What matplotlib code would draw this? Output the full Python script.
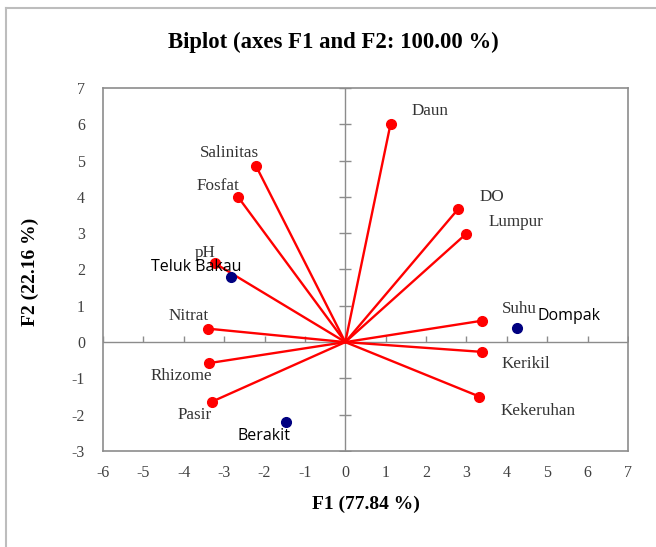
import matplotlib

matplotlib.use("Agg")
import matplotlib.pyplot as plt
from matplotlib.lines import Line2D

# Variable loadings on F1 / F2
variables = ["Daun", "Salinitas", "Fosfat", "pH", "Nitrat", "Rhizome", "Pasir",
             "DO", "Lumpur", "Suhu", "Kerikil", "Kekeruhan"]
var_f1 = [1.12, -2.21, -2.65, -3.23, -3.40, -3.38, -3.30, 2.79, 3.00, 3.39, 3.39, 3.32]
var_f2 = [6.01, 4.85, 3.99, 2.17, 0.37, -0.58, -1.64, 3.66, 2.99, 0.59, -0.27, -1.50]

# Site scores
sites = ["Teluk Bakau", "Dompak", "Berakit"]
site_f1 = [-2.82, 4.25, -1.46]
site_f2 = [1.78, 0.40, -2.20]

x_ticks = list(range(-6, 8))
y_ticks = list(range(-3, 8))

title = "Biplot (axes F1 and F2: 100.00 %)"
x_label = "F1 (77.84 %)"
y_label = "F2 (22.16 %)"

# label offsets in pixels (dx, dy) from each point
var_offsets = [(40, 13), (-27, 13), (-20, 11), (-10, 10), (-19, 13), (-27, -13),
               (-17, -13), (34, 12), (50, 12), (37, 12), (44, -12), (59, -14)]
site_offsets = [(-35, 10), (52, 12), (-22, -14)]

SERIF = "Liberation Serif"
GRID_GREY = "#8c8c8c"


def main() -> None:
    W, H = 656, 547
    fig = plt.figure(figsize=(W / 100, H / 100), dpi=100)
    fig.patch.set_facecolor("white")

    # outer frame (left and top edges only)
    fig.add_artist(Line2D([6 / W, 6 / W], [0, 1 - 8 / H], transform=fig.transFigure,
                          color="#bdbdbd", lw=1.5))
    fig.add_artist(Line2D([6 / W, 1], [1 - 8 / H, 1 - 8 / H], transform=fig.transFigure,
                          color="#bdbdbd", lw=1.5))

    ax = fig.add_axes([103 / W, 1 - 451 / H, 525 / W, 363 / H])
    ax.set_xlim(-6, 7)
    ax.set_ylim(-3, 7)
    ax.set_xticks(x_ticks)
    ax.set_yticks(y_ticks)
    ax.set_xticklabels([str(t) for t in x_ticks])
    ax.set_yticklabels([str(t) for t in y_ticks])
    ax.tick_params(axis="both", length=0, labelsize=11.5, labelcolor="#404040")
    ax.tick_params(axis="x", pad=10)
    ax.tick_params(axis="y", pad=13)
    for lab in ax.get_xticklabels() + ax.get_yticklabels():
        lab.set_fontfamily(SERIF)
    for spine in ax.spines.values():
        spine.set_color(GRID_GREY)
        spine.set_linewidth(1.2)

    # zero lines with their own tick marks
    ax.axhline(0, color=GRID_GREY, lw=1.0, zorder=1)
    ax.axvline(0, color=GRID_GREY, lw=1.0, zorder=1)
    ax.plot(x_ticks, [0] * len(x_ticks), linestyle="none", marker=2,
            markersize=4.5, markeredgewidth=1.0, color=GRID_GREY, zorder=1)
    ax.plot([0] * len(y_ticks), y_ticks, linestyle="none", marker="_",
            markersize=8, markeredgewidth=1.0, color=GRID_GREY, zorder=1)

    # loading vectors
    for x, y in zip(var_f1, var_f2):
        ax.plot([0, x], [0, y], color="#ff0000", lw=1.7, zorder=2, solid_capstyle="round")
    ax.plot(var_f1, var_f2, "o", color="#ff0000", markersize=7, zorder=3)

    # sites
    ax.plot(site_f1, site_f2, "o", color="#000080", markersize=7, zorder=3)

    for name, x, y, (dx, dy) in zip(variables, var_f1, var_f2, var_offsets):
        ax.annotate(name, (x, y), xytext=(dx, dy), textcoords="offset pixels",
                    ha="center", va="center", fontsize=12.3, family=SERIF, color="#333333")
    for name, x, y, (dx, dy) in zip(sites, site_f1, site_f2, site_offsets):
        ax.annotate(name, (x, y), xytext=(dx, dy), textcoords="offset pixels",
                    ha="center", va="center", fontsize=11.5, family="Open Sans", color="black")

    fig.text(333 / W, 1 - 42 / H, title, ha="center", va="center", fontsize=16.4,
             fontweight="bold", family=SERIF)
    fig.text(366 / W, 1 - 504 / H, x_label, ha="center", va="center", fontsize=14,
             fontweight="bold", family=SERIF)
    fig.text(30 / W, 1 - 272 / H, y_label, ha="center", va="center", fontsize=14,
             fontweight="bold", family=SERIF, rotation=90)

    fig.savefig("out.png", dpi=100)
    plt.close(fig)


if __name__ == "__main__":
    main()
